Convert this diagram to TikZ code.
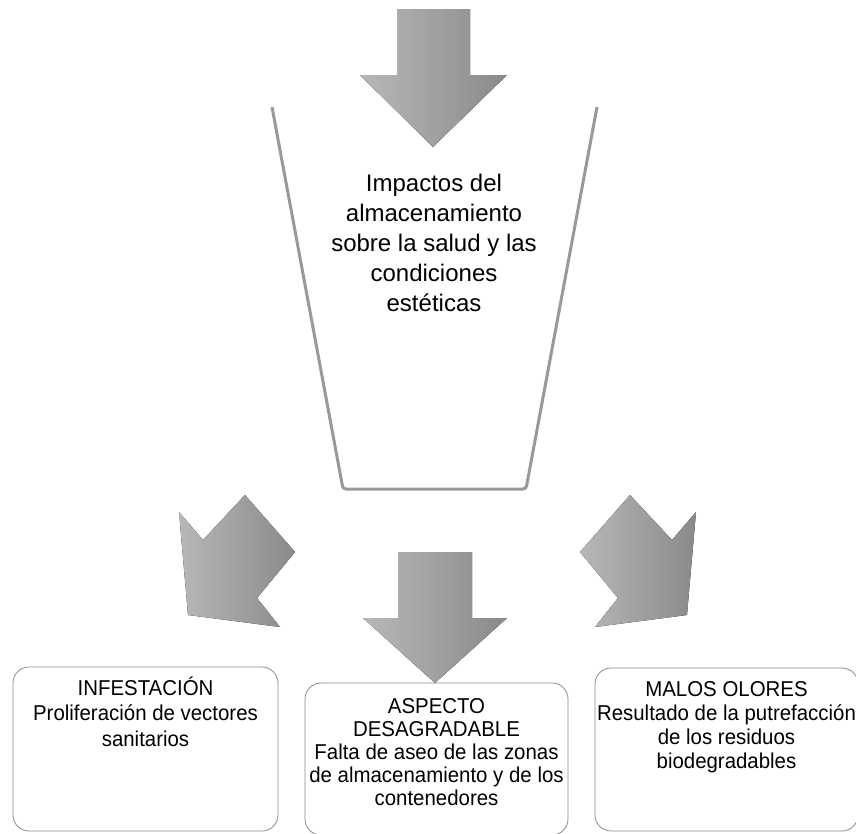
\documentclass[tikz,border=0pt]{standalone}
\usepackage{fontspec}
\setmainfont{Liberation Sans}
\newfontfamily\narrowfont[FakeStretch=0.95]{Liberation Sans}
\usetikzlibrary{positioning}

\begin{document}
\begin{tikzpicture}[x=1pt, y=-1pt,
blockarrow/.style={left color=black!28, right color=black!46, draw=none},
bucketline/.style={draw=black!40, line width=3pt, rounded corners=3pt},
roundbox/.style={rectangle, rounded corners=16pt, draw=black!45, line width=0.8pt, inner sep=0pt},
boxtext/.style={align=center, font=\narrowfont\fontsize{21.5}{25.5}\selectfont, inner sep=0pt},
maintext/.style={align=center, font=\fontsize{24}{30}\selectfont, inner sep=0pt},
]
\useasboundingbox (0,0) rectangle (856,833);

%Bucket
\draw[bucketline] (272,107) -- (343,489) -- (526,489) -- (597,107);
\node[maintext] (impactos) at (434,243) {Impactos del\\almacenamiento\\sobre la salud y las\\condiciones\\estéticas};

%Arrows
\fill[blockarrow] (397,9) -- (470,9) -- (470,75) -- (507,75) -- (433,147) -- (360,75) -- (397,75) -- cycle;
\fill[blockarrow] (398,552) -- (472,552) -- (472,618) -- (507,618) -- (435,683) -- (363,618) -- (398,618) -- cycle;
\fill[blockarrow] (188,615) -- (179,512) -- (203,540) -- (245,495) -- (295,552) -- (257,598) -- (280,627) -- cycle;
\fill[blockarrow] (687,615) -- (696,512) -- (672,540) -- (630,495) -- (580,552) -- (618,598) -- (595,627) -- cycle;

%Boxes
\node[roundbox, minimum width=265pt, minimum height=164pt] (infestacion) at (145.5,749) {};
\node[roundbox, minimum width=263pt, minimum height=152pt] (aspecto) at (436.5,759) {};
\node[roundbox, minimum width=263pt, minimum height=163pt] (olores) at (726.5,749.5) {};

%Texts
\node[boxtext] (infT) [below=10pt of infestacion.north] {INFESTACIÓN\\Proliferación de vectores\\sanitarios};
\node[boxtext, font=\narrowfont\fontsize{21.5}{23}\selectfont] (aspT) [below=16pt of aspecto.north] {ASPECTO\\DESAGRADABLE\\Falta de aseo de las zonas\\de almacenamiento y de los\\contenedores};
\node[boxtext, font=\narrowfont\fontsize{21.5}{24}\selectfont] (oloT) [below=14pt of olores.north] {MALOS OLORES\\Resultado de la putrefacción\\de los residuos\\biodegradables};
\end{tikzpicture}
\end{document}
